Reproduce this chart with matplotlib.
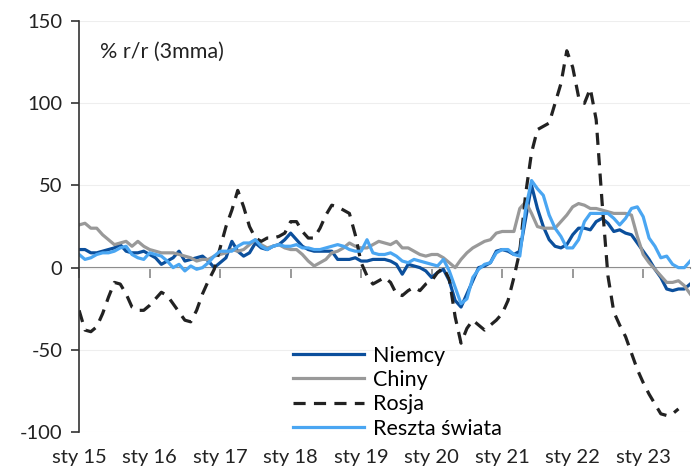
import numpy as np
import matplotlib
matplotlib.use("Agg")
import matplotlib.pyplot as plt

plt.rcParams['font.family'] = ['Lato', 'DejaVu Sans']
plt.rcParams['axes.unicode_minus'] = False

# monthly, sty 2015 .. wrz 2023, % r/r (3mma)
niemcy = [11, 11, 9, 9, 10, 11, 12, 14, 10, 9, 9, 10,
          8, 6, 2, 4, 6, 10, 4, 5, 6, 7, 4, 0,
          3, 6, 16, 10, 7, 9, 15, 12, 11, 13, 14, 17,
          21, 17, 13, 11, 10, 10, 10, 10, 5, 5, 5, 6,
          4, 4, 5, 5, 5, 4, 2, -4, 2, 1, 0, -2,
          -6, -3, -1, -8, -20, -24, -16, -8, 0, 1, 3, 10,
          11, 10, 8, 10, 30, 50, 36, 25, 17, 13, 12, 14,
          20, 24, 24, 23, 28, 30, 27, 22, 23, 21, 20, 15,
          10, 5, -1, -6, -13, -14, -13, -13, -10]
chiny = [26, 27, 24, 24, 20, 17, 14, 15, 16, 13, 16, 13,
         11, 10, 9, 9, 9, 8, 7, 6, 4, 5, 5, 7,
         8, 9, 11, 10, 11, 14, 17, 14, 12, 13, 14, 12,
         11, 11, 8, 4, 1, 3, 5, 9, 10, 12, 15, 13,
         12, 12, 14, 16, 15, 14, 16, 12, 12, 10, 8, 7,
         8, 8, 6, 3, 0, 5, 9, 12, 14, 16, 17, 21,
         22, 22, 22, 36, 40, 33, 25, 24, 24, 24, 28, 32,
         37, 39, 38, 36, 36, 35, 34, 33, 33, 33, 32, 19,
         8, 3, -1, -5, -9, -9, -8, -11, -16]
rosja = [-26, -38, -39, -36, -28, -18, -9, -10, -16, -24, -26, -26,
         -23, -19, -15, -17, -22, -27, -32, -33, -26, -16, -8, -1,
         12, 25, 35, 47, 37, 25, 18, 16, 18, 18, 19, 21,
         28, 28, 22, 18, 18, 24, 32, 38, 37, 35, 33, 20,
         3, -5, -10, -8, -6, -9, -16, -17, -14, -12, -14, -10,
         -8, -3, 0, -7, -30, -46, -37, -32, -35, -38, -35, -32,
         -28, -20, -6, 10, 45, 70, 84, 86, 88, 100, 112, 132,
         122, 104, 100, 109, 90, 40, -5, -27, -35, -42, -52, -62,
         -70, -77, -83, -89, -90, -89, -86, np.nan, np.nan]
reszta = [8, 5, 6, 8, 9, 9, 10, 12, 13, 8, 6, 5,
          9, 8, 7, 4, 0, 2, -2, 1, -1, 0, 3, 7,
          10, 10, 10, 13, 15, 15, 17, 13, 11, 13, 14, 13,
          13, 14, 12, 12, 11, 11, 12, 13, 14, 13, 11, 10,
          10, 17, 9, 8, 8, 9, 7, 4, 3, 5, 4, 3,
          2, 1, 5, -2, -12, -22, -19, -6, -1, 2, 3, 9,
          11, 11, 8, 7, 36, 53, 48, 44, 32, 24, 19, 12,
          12, 17, 28, 33, 33, 33, 33, 30, 26, 30, 36, 37,
          31, 18, 13, 6, 7, 2, 0, 0, 4]
year_labels = ["sty 15", "sty 16", "sty 17", "sty 18", "sty 19",
               "sty 20", "sty 21", "sty 22", "sty 23"]

x = np.arange(len(niemcy))
year_ticks = np.arange(len(year_labels)) * 12

fig = plt.figure(figsize=(7, 4.71), dpi=100)
ax = fig.add_axes([0.113, 0.083, 0.873, 0.872])

ax.grid(axis='y', color='#eeeeee', linewidth=0.8)
ax.set_axisbelow(True)

ax.plot(x, niemcy, color='#0b4f9c', lw=2.3, label='Niemcy')
ax.plot(x, chiny, color='#999999', lw=2.3, label='Chiny')
ax.plot(x, rosja, color='#222222', lw=2.3, dashes=(3.8, 2.6), label='Rosja')
ax.plot(x, reszta, color='#4aa6f2', lw=2.3, label='Reszta świata')

ax.set_xlim(0, 104)
ax.set_ylim(-100, 150)
ax.set_yticks([-100, -50, 0, 50, 100, 150])

for s in ['top', 'right', 'bottom']:
    ax.spines[s].set_visible(False)
ax.spines['left'].set_color('#333333')
ax.spines['left'].set_linewidth(1.2)
ax.tick_params(axis='y', length=6, width=1.2, color='#333333',
               labelsize=14.5, labelcolor='#222222', pad=6)
ax.set_xticks(year_ticks)
ax.set_xticklabels(year_labels)
ax.tick_params(axis='x', length=0, labelsize=14.5, labelcolor='#222222', pad=12)

# zero axis with year ticks
zx = ax.secondary_xaxis(0, transform=ax.transData)
zx.set_xticks(year_ticks)
zx.set_xticklabels([])
zx.spines['bottom'].set_color('#888888')
zx.spines['bottom'].set_linewidth(1.5)
zx.tick_params(axis='x', length=7, width=1.2, color='#888888')

ax.text(0.034, 0.925, '% r/r (3mma)', transform=ax.transAxes,
        fontsize=15.5, color='#222222', va='center')

ax.legend(loc='upper left', bbox_to_anchor=(0.35, 0.21), frameon=False,
          fontsize=15.5, handlelength=3.3, handletextpad=0.4,
          labelspacing=0.2, borderpad=0, borderaxespad=0)

fig.savefig('out.png', dpi=100)
